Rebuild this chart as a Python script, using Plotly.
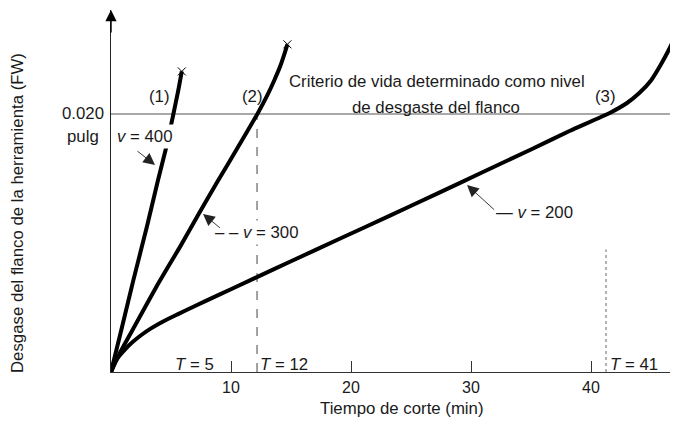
import plotly.graph_objects as go

# ---- data ----
t_v400 = [0, 0.5, 1.0, 1.86, 3.0, 3.9, 4.6, 5.2, 5.6, 5.9]
fw_v400 = [0, 0.0019, 0.0038, 0.0071, 0.0113, 0.0148, 0.0174, 0.0200, 0.0218, 0.0233]

t_v300 = [0, 0.75, 2.0, 3.9, 5.75, 7.4, 8.9, 10.5, 12.2, 13.0, 13.6, 14.1, 14.5, 14.7]
fw_v300 = [0, 0.0015, 0.0036, 0.0068, 0.0097, 0.0124, 0.0148, 0.0173, 0.0200, 0.0214,
           0.0226, 0.0237, 0.0248, 0.0254]

t_v200 = [0, 0.3, 0.7, 1.2, 1.8, 2.5, 3.3, 4.3, 5.5, 7.0, 8.8, 11.8, 15.0, 19.1, 23.2,
          27.0, 31.0, 35.0, 38.25, 41.6, 43.0, 44.0, 45.0, 45.8, 46.5, 47.1]
fw_v200 = [0, 0.0007, 0.00125, 0.00178, 0.00232, 0.00285, 0.00336, 0.0039, 0.00445,
           0.00512, 0.0059, 0.0072, 0.00858, 0.01035, 0.0121, 0.01375, 0.0155, 0.01725,
           0.0187, 0.0201, 0.02085, 0.0216, 0.0226, 0.0238, 0.0250, 0.0262]

criterion_fw = 0.020
tool_life = [5, 12, 41]
tool_life_marks = [12.17, 41.25]
x_ticks = [10, 20, 30, 40]
x_tick_labels = ["10", "20", "30", "40"]
curve_names = ["(1)", "(2)", "(3)"]
speed_labels = ["<i>v</i> = 400", "– – <i>v</i> = 300", "— <i>v</i> = 200"]
x_title = "Tiempo de corte (min)"
y_title = "Desgase del flanco de la herramienta (FW)"

X_MAX = 47.25
Y_MAX = 0.02806
FONT = "Liberation Sans, Arial, Helvetica, sans-serif"
INK = "#1a1a1a"
FS = 16.8

fig = go.Figure()

for t, fw in [(t_v400, fw_v400), (t_v300, fw_v300), (t_v200, fw_v200)]:
    fig.add_trace(go.Scatter(x=t, y=fw, mode="lines",
                             line=dict(color="black", width=4, shape="spline", smoothing=0.4),
                             hoverinfo="skip", showlegend=False))

# end crosses on curves 1 and 2
fig.add_trace(go.Scatter(x=[t_v400[-1], t_v300[-1]], y=[fw_v400[-1], fw_v300[-1]],
                         mode="markers",
                         marker=dict(symbol="x-thin", size=8, line=dict(color="black", width=1)),
                         hoverinfo="skip", showlegend=False))

shapes = [
    dict(type="line", xref="x", yref="y", x0=0, x1=X_MAX, y0=criterion_fw, y1=criterion_fw,
         line=dict(color="#555555", width=1.2), layer="below"),
    dict(type="line", xref="x", yref="y", x0=tool_life_marks[0], x1=tool_life_marks[0],
         y0=0, y1=criterion_fw, line=dict(color="#444444", width=1, dash="dash"), layer="below"),
    dict(type="line", xref="x", yref="y", x0=tool_life_marks[1], x1=tool_life_marks[1],
         y0=0, y1=0.0095, line=dict(color="#666666", width=1, dash="dot"), layer="below"),
]

ann = []
def txt(x, y, s, size=FS, **kw):
    d = dict(x=x, y=y, xref="x", yref="y", text=s, showarrow=False,
             font=dict(family=FONT, size=size, color=INK))
    d.update(kw)
    ann.append(d)

def arrow(xh, yh, xt, yt, **kw):
    d = dict(x=xh, y=yh, ax=xt, ay=yt, xref="x", yref="y", axref="x", ayref="y",
             text="", showarrow=True, arrowhead=2, arrowsize=2.6, arrowwidth=0.9,
             arrowcolor="#222222", standoff=0, startstandoff=0)
    d.update(kw)
    ann.append(d)

# curve numbers
txt(4.08, 0.02132, curve_names[0])
txt(11.75, 0.02132, curve_names[1])
txt(41.2, 0.02132, curve_names[2])

# criterion text
txt(27.2, 0.02248, "Criterio de vida determinado como nivel")
txt(27.05, 0.02054, "de desgaste del flanco")

# speed labels
txt(2.83, 0.01822, speed_labels[0], bgcolor="white", borderpad=2)
arrow(3.67, 0.01605, 2.08, 0.01721)
txt(12.17, 0.01085, speed_labels[1], bgcolor="white", borderpad=2)
arrow(7.67, 0.01225, 9.2, 0.01108)
txt(35.3, 0.0124, speed_labels[2])
arrow(29.67, 0.0145, 32.05, 0.01248)

# tool life labels
txt(6.96, 0.00062, "<i>T</i> = %d" % tool_life[0])
txt(14.42, 0.00062, "<i>T</i> = %d" % tool_life[1])
txt(43.58, 0.00062, "<i>T</i> = %d" % tool_life[2])

# y value labels
txt(0, criterion_fw, "0.020", xanchor="right", xshift=-5)
txt(0, 0.01822, "pulg", xanchor="right", xshift=-10)

# axis titles (paper-referenced so they are not hidden outside the axis range)
txt(0.5132, -0.1022, x_title, xref="paper", yref="paper", xanchor="center", yanchor="middle")
txt(-0.1658, 0.4392, y_title, xref="paper", yref="paper", textangle=-90,
    xanchor="center", yanchor="middle")

# y-axis arrow head
arrow(0, Y_MAX, 0, 0.0262, arrowhead=2, arrowsize=1.6, arrowwidth=1.4, arrowcolor="black")

# page body has an 8px margin: shrink the figure so the plot lands where the reference has it
fig.update_layout(
    width=670, height=416,
    margin=dict(l=103, r=0, t=2, b=52),
    paper_bgcolor="white", plot_bgcolor="white",
    shapes=shapes, annotations=ann,
    xaxis=dict(range=[0, X_MAX], showgrid=False, zeroline=False,
               showline=True, linecolor="#333333", linewidth=1.2,
               ticks="inside", ticklen=11, tickwidth=1, tickcolor="#333333",
               tickvals=x_ticks, ticktext=x_tick_labels, ticklabelstandoff=1,
               tickfont=dict(family=FONT, size=16, color=INK)),
    yaxis=dict(range=[0, Y_MAX], showgrid=False, zeroline=False,
               showline=True, linecolor="#222222", linewidth=1.2,
               showticklabels=False, ticks=""),
    showlegend=False,
)

fig.write_html("out.html")
